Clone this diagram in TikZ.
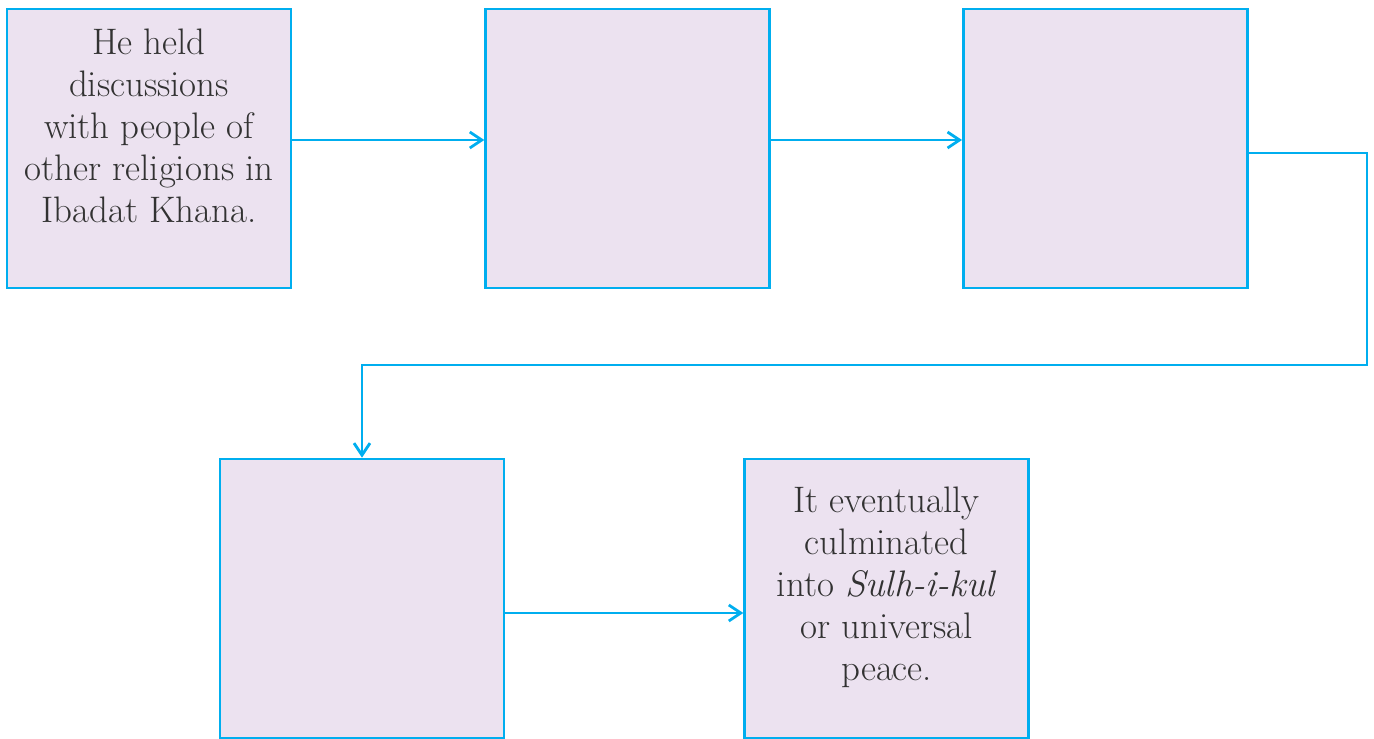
\documentclass[tikz,border=0pt]{standalone}
\usetikzlibrary{arrows.meta, positioning}
\definecolor{flowcyan}{RGB}{0, 174, 239}
\definecolor{boxlilac}{RGB}{236, 226, 240}
\definecolor{inkgray}{RGB}{50, 50, 50}

\begin{document}
\begin{tikzpicture}[x=0.02cm, y=0.02cm,
        box/.style={draw=flowcyan, line width=1.6pt, fill=boxlilac,
                    minimum width=5.68cm, minimum height=5.58cm, inner sep=0pt},
        txt/.style={align=center, text=inkgray, inner sep=0pt,
                    font=\fontsize{21}{24}\selectfont},
        flow/.style={flowcyan, line width=1.6pt,
                     -{Straight Barb[length=0.24cm, width=0.32cm, line width=1.6pt]}}]
        \useasboundingbox (0,0) rectangle (1374,-738);

        \node[box] (step1) at (149,-148.5) {};
        \node[box, right=3.84cm of step1] (step2) {};
        \node[box, right=3.82cm of step2] (step3) {};
        \node[box] (step4) at (362,-598.5) {};
        \node[box, right=4.76cm of step4] (step5) {};

        \node[txt, below=0.41cm of step1.north] (note1)
              {He held\\discussions\\with people of\\other religions in\\Ibadat Khana.};
        \node[txt, below=0.57cm of step5.north] (note5)
              {It eventually\\culminated\\into \textit{Sulh-i-kul}\\or universal\\peace.};

        \coordinate (bend) at (1367,-365);
        \draw[flow] ([yshift=0.17cm]step1.east) -- ([yshift=0.17cm]step2.west);
        \draw[flow] ([yshift=0.17cm]step2.east) -- ([yshift=0.17cm]step3.west);
        \draw[flow] ([yshift=-0.09cm]step3.east) -| (bend) -| (step4.north);
        \draw[flow] ([yshift=-0.29cm]step4.east) -- ([yshift=-0.29cm]step5.west);
    \end{tikzpicture}
\end{document}
